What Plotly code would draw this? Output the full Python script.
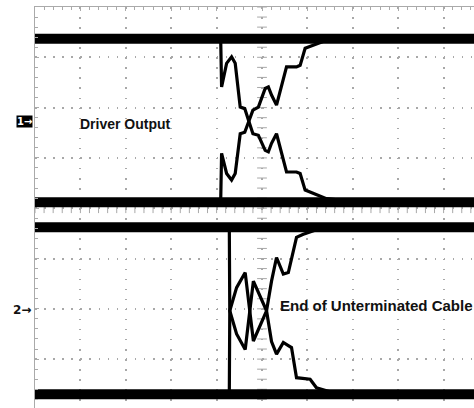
import numpy as np
import plotly.graph_objects as go

# ---- data (time in screen divisions, amplitude in divisions relative to channel marker)
ch1_time = [0, 4.09, 4.11, 4.15, 4.22, 4.33, 4.41, 4.52, 4.62, 4.71, 4.80, 4.92, 5.07,
            5.14, 5.21, 5.32, 5.43, 5.54, 5.76, 5.84, 5.95, 6.13, 6.42, 6.72, 10]
ch1_fall = [1.64, 1.64, 0.68, 0.85, 1.15, 1.28, 1.15, 0.28, 0.25, 0.0, -0.25, -0.28, -0.58,
            -0.61, -0.44, -0.25, -0.64, -1.01, -1.01, -1.04, -1.37, -1.44, -1.54, -1.57, -1.61]
ch1_rise = [-1.61, -1.60, -0.64, -0.78, -1.04, -1.17, -1.04, -0.25, -0.22, 0.0, 0.22, 0.28, 0.65,
            0.68, 0.52, 0.32, 0.72, 1.08, 1.08, 1.11, 1.45, 1.51, 1.61, 1.64, 1.64]

ch2_time = [0, 4.28, 4.29, 4.44, 4.63, 4.81, 5.10, 5.21, 5.32, 5.47, 5.58, 5.65, 5.76,
            5.91, 6.06, 6.20, 6.57, 10]
ch2_rise = [-1.67, -1.67, -0.01, 0.45, 0.75, -0.61, -0.01, 0.58, 1.05, 0.72, 0.75, 1.0, 1.45,
            1.51, 1.55, 1.60, 1.65, 1.65]
ch2_fall = [1.65, 1.65, -0.01, -0.47, -0.78, 0.58, -0.01, -0.62, -0.87, -0.64, -0.70, -0.74, -1.34,
            -1.36, -1.37, -1.54, -1.64, -1.67]

ch1_offset = 1.73   # channel 1 ground marker (divisions)
ch2_offset = -2.03  # channel 2 ground marker (divisions)

labels = ["Driver Output", "End of Unterminated Cable"]
markers = ["1\u2192", "2\u2192"]

# ---- figure
W, H = 474, 408
ML, MT = 35, 7
px_per_xdiv = 45.4
px_per_ydiv = 50.3
x_max = (W - ML) / px_per_xdiv
y_top = 4.0
y_bot = y_top - (H - MT) / px_per_ydiv

fig = go.Figure()

grid_col = "#a8a8a8"

# centre graticule crossbar ticks
yt = np.arange(-4, 4.001, 0.2)
fig.add_trace(go.Scatter(x=[5] * len(yt), y=yt, mode="markers",
                         marker=dict(symbol="line-ew", size=7, line=dict(width=1, color=grid_col)),
                         hoverinfo="skip", showlegend=False))
xt = np.arange(0, 10.001, 0.2)
fig.add_trace(go.Scatter(x=xt, y=[0] * len(xt), mode="markers",
                         marker=dict(symbol="line-ns", size=7, line=dict(width=1, color=grid_col)),
                         hoverinfo="skip", showlegend=False))

def add_channel(t, a, b, off):
    ya = [v + off for v in a]
    yb = [v + off for v in b]
    # persistent steady-state levels (thick noisy bands)
    for lvl in (a[0], b[0]):
        fig.add_trace(go.Scatter(x=[t[0], t[-1]], y=[lvl + off] * 2, mode="lines",
                                 line=dict(color="black", width=10),
                                 hoverinfo="skip", showlegend=False))
    for yy in (ya, yb):
        fig.add_trace(go.Scatter(x=t, y=yy, mode="lines",
                                 line=dict(color="black", width=3.2),
                                 hoverinfo="skip", showlegend=False))

add_channel(ch1_time, ch1_fall, ch1_rise, ch1_offset)
add_channel(ch2_time, ch2_fall, ch2_rise, ch2_offset)

font_txt = "Liberation Sans, Arial, sans-serif"
fig.add_annotation(x=0.95, y=ch1_offset - 0.06, xref="x", yref="y", text="<b>" + labels[0] + "</b>",
                   showarrow=False, xanchor="left", yanchor="middle",
                   font=dict(family=font_txt, size=14, color="#111"))
fig.add_annotation(x=5.35, y=ch2_offset + 0.1, xref="x", yref="y", text="<b>" + labels[1] + "</b>",
                   showarrow=False, xanchor="left", yanchor="middle",
                   font=dict(family=font_txt, size=15, color="#111"))
fig.add_annotation(x=0, y=ch1_offset, xref="paper", yref="y", text="<b>" + markers[0] + "</b>",
                   showarrow=False, xanchor="right", yanchor="middle", xshift=-2,
                   bgcolor="black", borderpad=0,
                   font=dict(family="DejaVu Sans, sans-serif", size=10, color="white"))
fig.add_annotation(x=0, y=ch2_offset, xref="paper", yref="y", text="<b>" + markers[1] + "</b>",
                   showarrow=False, xanchor="right", yanchor="middle", xshift=-2,
                   font=dict(family="DejaVu Sans, sans-serif", size=12, color="#111"))

fig.update_layout(
    width=W, height=H,
    margin=dict(l=ML, r=0, t=MT, b=0, pad=0),
    paper_bgcolor="white", plot_bgcolor="white",
    showlegend=False,
    xaxis=dict(range=[0, x_max], side="top", showline=True, linecolor="#aaaaaa", linewidth=1,
               showgrid=True, gridcolor=grid_col, gridwidth=1.5, griddash="1.5px,8.56px",
               dtick=1, tick0=0, ticks="inside", ticklen=4, tickcolor="#aaaaaa",
               showticklabels=False, zeroline=False,
               minor=dict(dtick=0.2, ticks="inside", ticklen=3, tickcolor="#aaaaaa", showgrid=False)),
    yaxis=dict(range=[y_bot, y_top], showline=True, linecolor="#aaaaaa", linewidth=1,
               showgrid=True, gridcolor=grid_col, gridwidth=1.5, griddash="1.5px,7.58px",
               dtick=1, tick0=0, ticks="inside", ticklen=4, tickcolor="#aaaaaa",
               showticklabels=False, zeroline=False,
               minor=dict(dtick=0.2, ticks="inside", ticklen=3, tickcolor="#aaaaaa", showgrid=False)),
)

fig.write_html("out.html", config={"displayModeBar": False},
               post_script="document.body.style.margin='0';document.body.style.overflow='hidden';")
